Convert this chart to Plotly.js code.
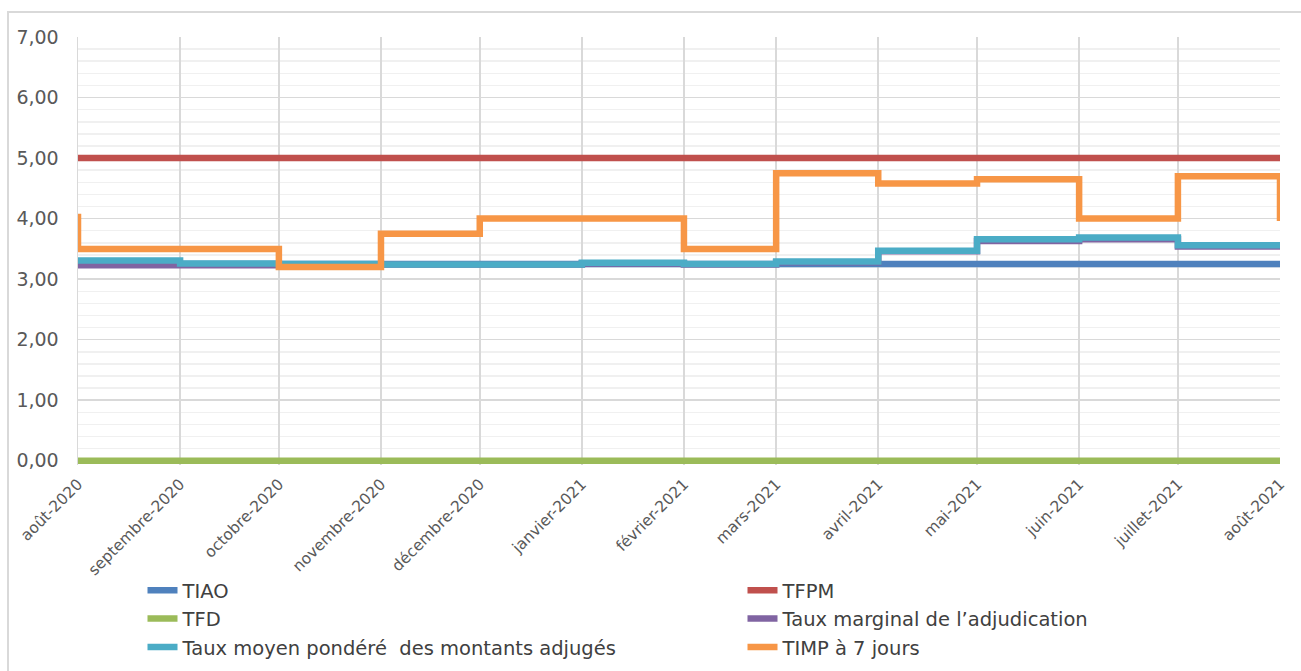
<!DOCTYPE html>
<html>
<head>
<meta charset="utf-8">
<script src="https://cdn.plot.ly/plotly-3.0.1.min.js"></script>
<style>
  html, body { margin: 0; padding: 0; background: #ffffff; }
  #frame { position: absolute; left: 7px; top: 11px; width: 1300px; height: 670px;
           border-top: 2px solid #D9D9D9; border-left: 2px solid #D9D9D9; }
  #chart { position: absolute; left: 0; top: 0; width: 1301px; height: 671px; }
</style>
</head>
<body>
<div id="frame"></div>
<div id="chart"></div>
<script>
// Observation dates (step shape "vh": each value holds over the month that ends at its date;
// the first value is the opening level, the last one the closing level at août-2021)
const dates = ['2020-08-01','2020-09-01','2020-10-01','2020-11-01','2020-12-01','2021-01-01',
               '2021-02-01','2021-03-01','2021-04-01','2021-05-01','2021-06-01','2021-07-01',
               '2021-08-01','2021-08-01'];

const tiao     = [3.25,3.25,3.25,3.25,3.25,3.25,3.25,3.25,3.25,3.25,3.25,3.25,3.25,3.25];
const tfpm     = [5.00,5.00,5.00,5.00,5.00,5.00,5.00,5.00,5.00,5.00,5.00,5.00,5.00,5.00];
const tfd      = [0.00,0.00,0.00,0.00,0.00,0.00,0.00,0.00,0.00,0.00,0.00,0.00,0.00,0.00];
const marginal = [3.23,3.23,3.23,3.24,3.24,3.24,3.26,3.24,3.28,3.46,3.63,3.66,3.54,3.59];
const moyen    = [3.31,3.31,3.26,3.25,3.24,3.24,3.27,3.25,3.29,3.47,3.66,3.69,3.56,3.61];
const timp     = [4.08,3.50,3.50,3.20,3.75,4.00,4.00,3.50,4.75,4.58,4.65,4.00,4.70,3.96];

const seriesNames = ['TIAO','TFPM','TFD','Taux marginal de l\u2019adjudication',
                     'Taux moyen pondéré  des montants adjugés','TIMP à 7 jours'];
const seriesColors = ['#4F81BD','#C0504D','#9BBB59','#8064A2','#4BACC6','#F79646'];
const legendColumn = ['legend','legend2','legend','legend2','legend','legend2'];

const tickDates = ['2020-08-01','2020-09-01','2020-10-01','2020-11-01','2020-12-01','2021-01-01',
                   '2021-02-01','2021-03-01','2021-04-01','2021-05-01','2021-06-01','2021-07-01','2021-08-01'];
const tickLabels = ['août-2020','septembre-2020','octobre-2020','novembre-2020','décembre-2020','janvier-2021',
                    'février-2021','mars-2021','avril-2021','mai-2021','juin-2021','juillet-2021','août-2021'];

const allSeries = [tiao, tfpm, tfd, marginal, moyen, timp];
const traces = allSeries.map((vals, i) => ({
  x: dates,
  y: vals,
  type: 'scatter',
  mode: 'lines',
  name: seriesNames[i],
  legend: legendColumn[i],
  line: { color: seriesColors[i], width: 6.5, shape: 'vh' },
  hoverinfo: 'x+y+name'
}));

const FONT = 'DejaVu Sans, Verdana, sans-serif';
const legendBase = {
  orientation: 'v',
  xref: 'container', yref: 'container',
  xanchor: 'left', yanchor: 'top',
  y: 0.149,
  font: { family: FONT, size: 19.5, color: '#404040' },
  bgcolor: 'rgba(0,0,0,0)',
  itemwidth: 30,
  tracegroupgap: 0
};

const layout = {
  width: 1301,
  height: 671,
  paper_bgcolor: 'rgba(0,0,0,0)',
  plot_bgcolor: '#ffffff',
  separators: ', ',
  margin: { l: 78, r: 21, t: 37, b: 206, autoexpand: false },
  showlegend: true,
  legend: Object.assign({}, legendBase, { x: (183 - 40.5) / 1301 }),
  legend2: Object.assign({}, legendBase, { x: (783 - 40.5) / 1301 }),
  xaxis: {
    type: 'date',
    range: ['2020-08-01', '2021-08-01'],
    tickvals: tickDates,
    ticktext: tickLabels,
    tickangle: -45,
    tickfont: { family: FONT, size: 15.5, color: '#595959' },
    showgrid: true,
    gridcolor: '#D9D9D9',
    gridwidth: 1.5,
    zeroline: false,
    showline: false,
    ticks: '',
    ticklabelstandoff: 6
  },
  yaxis: {
    range: [-0.07, 7],
    tickvals: [0,1,2,3,4,5,6,7],
    tickformat: '.2f',
    tickfont: { family: FONT, size: 19, color: '#595959' },
    showgrid: true,
    gridcolor: '#D9D9D9',
    gridwidth: 1.5,
    zeroline: false,
    showline: true,
    linecolor: '#D9D9D9',
    linewidth: 1.5,
    ticks: '',
    ticklabelstandoff: 14,
    minor: { dtick: 0.2, showgrid: true, gridcolor: '#F0F0F0', gridwidth: 1.5, ticks: '' }
  }
};

Plotly.newPlot('chart', traces, layout, { displayModeBar: false, staticPlot: true });
</script>
</body>
</html>
